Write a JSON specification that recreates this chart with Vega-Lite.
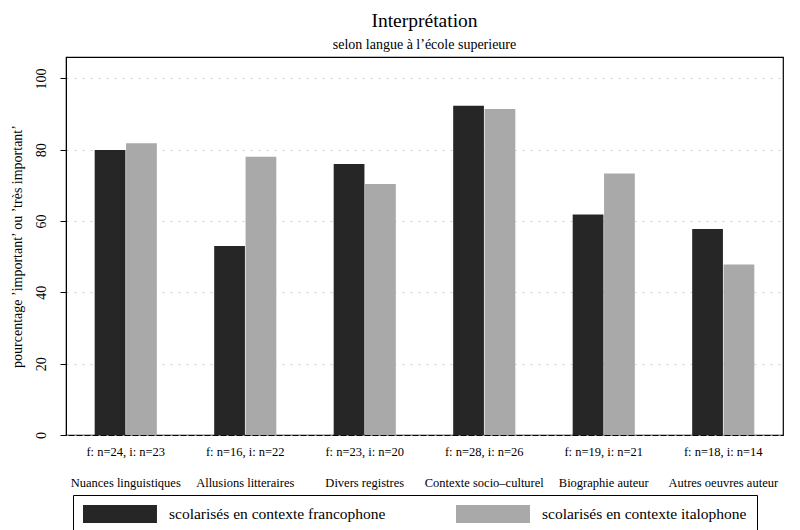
{
  "$schema": "https://vega.github.io/schema/vega-lite/v6.json",
  "width": 717,
  "height": 378,
  "padding": {"left": 10, "top": 10, "right": 16, "bottom": 0},
  "background": "white",
  "title": {
    "text": "Interprétation",
    "subtitle": "selon langue à l’école superieure",
    "font": "Liberation Serif",
    "fontSize": 19.5,
    "fontWeight": "normal",
    "subtitleFont": "Liberation Serif",
    "subtitleFontSize": 14,
    "subtitlePadding": 7,
    "color": "black",
    "subtitleColor": "black",
    "offset": 4
  },
  "data": {
    "values": [
      {"categorie": "Nuances linguistiques", "groupe": "scolarisés en contexte francophone", "pct": 79.9},
      {"categorie": "Nuances linguistiques", "groupe": "scolarisés en contexte italophone", "pct": 81.8},
      {"categorie": "Allusions litteraires", "groupe": "scolarisés en contexte francophone", "pct": 53.0},
      {"categorie": "Allusions litteraires", "groupe": "scolarisés en contexte italophone", "pct": 78.0},
      {"categorie": "Divers registres", "groupe": "scolarisés en contexte francophone", "pct": 76.0},
      {"categorie": "Divers registres", "groupe": "scolarisés en contexte italophone", "pct": 70.4},
      {"categorie": "Contexte socio–culturel", "groupe": "scolarisés en contexte francophone", "pct": 92.3},
      {"categorie": "Contexte socio–culturel", "groupe": "scolarisés en contexte italophone", "pct": 91.4},
      {"categorie": "Biographie auteur", "groupe": "scolarisés en contexte francophone", "pct": 61.8},
      {"categorie": "Biographie auteur", "groupe": "scolarisés en contexte italophone", "pct": 73.3},
      {"categorie": "Autres oeuvres auteur", "groupe": "scolarisés en contexte francophone", "pct": 57.8},
      {"categorie": "Autres oeuvres auteur", "groupe": "scolarisés en contexte italophone", "pct": 47.8}
    ]
  },
  "mark": {"type": "bar"},
  "encoding": {
    "x": {
      "field": "categorie",
      "type": "nominal",
      "sort": null,
      "scale": {"paddingInner": 0.48, "paddingOuter": 0.24},
      "axis": {
        "title": null,
        "labelAngle": 0,
        "ticks": false,
        "domain": false,
        "labelFont": "Liberation Serif",
        "labelFontSize": 12.5,
        "labelColor": "black",
        "labelPadding": 10,
        "labelLineHeight": 31,
        "labelLimit": 200,
        "labelExpr": "[{'Nuances linguistiques': 'f: n=24, i: n=23', 'Allusions litteraires': 'f: n=16, i: n=22', 'Divers registres': 'f: n=23, i: n=20', 'Contexte socio–culturel': 'f: n=28, i: n=26', 'Biographie auteur': 'f: n=19, i: n=21', 'Autres oeuvres auteur': 'f: n=18, i: n=14'}[datum.value], datum.value]"
      }
    },
    "xOffset": {"field": "groupe", "type": "nominal", "scale": {"paddingInner": 0.02}},
    "y": {
      "field": "pct",
      "type": "quantitative",
      "scale": {"domain": [0, 106], "nice": false},
      "axis": {
        "title": "pourcentage ’important’ ou ’très important’",
        "titleFont": "Liberation Serif",
        "titleFontSize": 14,
        "titleFontWeight": "normal",
        "titleColor": "black",
        "titlePadding": 10,
        "values": [0, 20, 40, 60, 80, 100],
        "labelAngle": -90,
        "labelAlign": "center",
        "labelBaseline": "bottom",
        "labelFont": "Liberation Serif",
        "labelFontSize": 14,
        "labelColor": "black",
        "labelPadding": 12,
        "tickColor": "black",
        "tickSize": 6,
        "domainColor": "black",
        "grid": true,
        "gridColor": "#c4c4c4",
        "gridDash": [2, 6],
        "gridWidth": 0.8
      }
    },
    "color": {
      "field": "groupe",
      "type": "nominal",
      "scale": {"range": ["#262626", "#a9a9a9"]},
      "legend": {
        "title": null,
        "orient": "none",
        "legendX": 7,
        "legendY": 438,
        "direction": "horizontal",
        "columns": 2,
        "symbolType": "M-1,-1H7.22V1H-1Z",
        "symbolSize": 324,
        "symbolStrokeWidth": 0,
        "symbolOpacity": 1,
        "labelFont": "Liberation Serif",
        "labelFontSize": 15.5,
        "labelColor": "black",
        "labelOffset": 68,
        "labelLimit": 400,
        "columnPadding": 70,
        "padding": 10,
        "strokeColor": "black",
        "fillColor": "white",
        "labelExpr": "datum.index == 1 ? datum.label + '     ' : datum.label"
      }
    }
  },
  "config": {
    "view": {"stroke": "black", "strokeWidth": 1.2},
    "font": "Liberation Serif"
  }
}
